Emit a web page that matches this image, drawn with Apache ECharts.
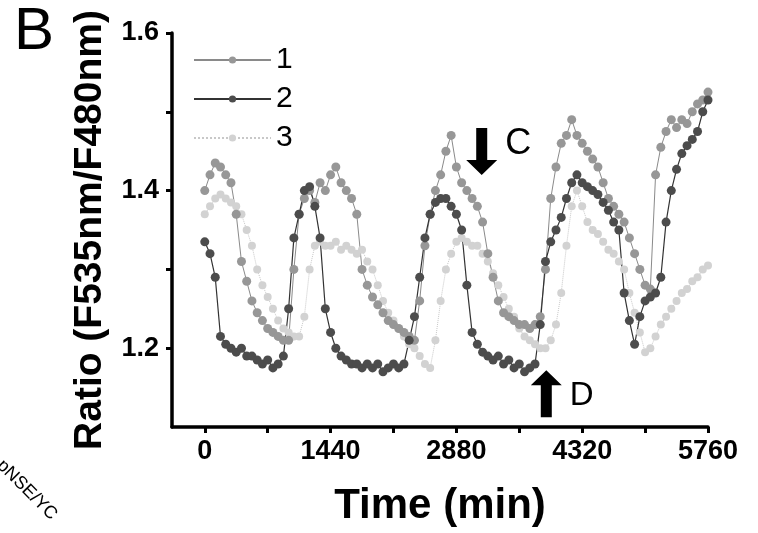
<!DOCTYPE html>
<html>
<head>
<meta charset="utf-8">
<script src="https://cdn.jsdelivr.net/npm/echarts@6/dist/echarts.min.js"></script>
<style>html,body{margin:0;padding:0;background:#fff}#c{width:758px;height:533px}</style>
</head>
<body>
<div id="c"></div>
<script>
// Sampling times (min)
const times = [0,60,120,180,240,300,360,420,480,540,600,660,720,780,840,900,960,1020,1080,1140,1200,1260,1320,1380,1440,1500,1560,1620,1680,1740,1800,1860,1920,1980,2040,2100,2160,2220,2280,2340,2400,2460,2520,2580,2640,2700,2760,2820,2880,2940,3000,3060,3120,3180,3240,3300,3360,3420,3480,3540,3600,3660,3720,3780,3840,3900,3960,4020,4080,4140,4200,4260,4320,4380,4440,4500,4560,4620,4680,4740,4800,4860,4920,4980,5040,5100,5160,5220,5280,5340,5400,5460,5520,5580,5640,5700,5760];

const series1 = [1.40,1.42,1.435,1.43,1.42,1.41,1.37,1.31,1.285,1.26,1.245,1.235,1.225,1.22,1.215,1.21,1.21,1.30,1.37,1.39,1.40,1.385,1.41,1.40,1.42,1.43,1.41,1.40,1.39,1.37,1.30,1.28,1.265,1.255,1.245,1.235,1.23,1.225,1.22,1.215,1.21,1.26,1.33,1.37,1.40,1.42,1.45,1.47,1.43,1.41,1.40,1.39,1.38,1.36,1.32,1.29,1.26,1.245,1.24,1.235,1.23,1.23,1.225,1.23,1.24,1.30,1.39,1.43,1.46,1.47,1.49,1.47,1.46,1.45,1.44,1.43,1.41,1.39,1.38,1.37,1.36,1.34,1.32,1.30,1.28,1.275,1.42,1.455,1.475,1.49,1.48,1.49,1.485,1.50,1.51,1.515,1.525];

const series2 = [1.335,1.32,1.29,1.215,1.205,1.20,1.195,1.20,1.19,1.19,1.185,1.18,1.185,1.175,1.18,1.19,1.25,1.34,1.37,1.40,1.405,1.38,1.34,1.25,1.22,1.20,1.19,1.185,1.18,1.18,1.175,1.18,1.175,1.18,1.17,1.175,1.18,1.175,1.18,1.21,1.24,1.29,1.34,1.37,1.385,1.39,1.39,1.38,1.37,1.35,1.28,1.22,1.205,1.195,1.19,1.185,1.19,1.18,1.185,1.175,1.18,1.17,1.175,1.18,1.23,1.31,1.335,1.35,1.366,1.39,1.41,1.42,1.41,1.405,1.40,1.395,1.385,1.375,1.36,1.35,1.27,1.235,1.205,1.24,1.26,1.265,1.27,1.29,1.36,1.40,1.427,1.447,1.457,1.465,1.475,1.50,1.515];

const series3 = [1.37,1.38,1.39,1.395,1.39,1.385,1.38,1.37,1.35,1.33,1.30,1.28,1.265,1.25,1.235,1.225,1.22,1.215,1.215,1.24,1.30,1.33,1.335,1.33,1.33,1.335,1.325,1.33,1.325,1.32,1.325,1.31,1.30,1.28,1.26,1.245,1.235,1.225,1.215,1.205,1.20,1.19,1.18,1.175,1.21,1.26,1.30,1.32,1.335,1.34,1.335,1.33,1.33,1.32,1.31,1.295,1.28,1.265,1.25,1.24,1.225,1.215,1.21,1.205,1.20,1.20,1.21,1.23,1.27,1.33,1.38,1.40,1.38,1.36,1.35,1.345,1.335,1.325,1.32,1.31,1.30,1.27,1.245,1.22,1.195,1.20,1.215,1.23,1.24,1.25,1.26,1.27,1.275,1.285,1.29,1.30,1.305];

const seriesNames = ['1','2','3'];
const xTickValues = [0,720,1440,2160,2880,3600,4320,5040,5760];
const xLabelValues = [0,1440,2880,4320,5760];
const yTickValues = [1.2,1.3,1.4,1.5,1.6];
const yLabelValues = [1.2,1.4,1.6];

const pair = arr => times.map((t,i)=>[t,arr[i]]);
const FONT = 'Liberation Sans, Arial, sans-serif';
const downArrow = 'path://M10,0 L21,0 L21,32 L31,32 L15.5,47 L0,32 L10,32 Z';

const chart = echarts.init(document.getElementById('c'), null, {renderer:'canvas'});
chart.setOption({
  animation:false,
  backgroundColor:'#fff',
  grid:{left:172,right:50,top:33,bottom:106,containLabel:false},
  legend:{
    data:seriesNames, orient:'vertical', left:193, top:45,
    itemWidth:77, itemHeight:9, itemGap:9, padding:0,
    textStyle:{fontSize:30, color:'#000', fontFamily:FONT, lineHeight:30}
  },
  xAxis:{
    type:'value', min:-375, max:5760,
    axisLine:{show:true, onZero:false, lineStyle:{color:'#000', width:3.5}},
    axisTick:{show:true, customValues:xTickValues, length:6, lineStyle:{color:'#000', width:3}},
    axisLabel:{customValues:xLabelValues, formatter:v=>String(v), fontSize:27, fontWeight:'bold', color:'#000', fontFamily:FONT, margin:11},
    splitLine:{show:false},
    name:'Time (min)', nameLocation:'middle', nameGap:58,
    nameTextStyle:{fontSize:42, fontWeight:'bold', color:'#000', fontFamily:FONT}
  },
  yAxis:{
    type:'value', min:1.1, max:1.6,
    axisLine:{show:true, onZero:false, lineStyle:{color:'#000', width:3.5}},
    axisTick:{show:true, customValues:yTickValues, length:6, lineStyle:{color:'#000', width:3}},
    axisLabel:{customValues:yLabelValues, formatter:v=>v.toFixed(1), fontSize:27, fontWeight:'bold', color:'#000', fontFamily:FONT, margin:13},
    splitLine:{show:false},
    name:'Ratio (F535nm/F480nm)', nameLocation:'middle', nameGap:62, nameRotate:90,
    nameTextStyle:{fontSize:39, fontWeight:'bold', color:'#000', fontFamily:FONT}
  },
  series:[
    {name:'3', type:'line', data:pair(series3), symbol:'circle', symbolSize:8, showSymbol:true,
     itemStyle:{color:'#d2d2d2'}, lineStyle:{color:'#c8c8c8', width:1, type:'dotted'}},
    {name:'1', type:'line', data:pair(series1), symbol:'circle', symbolSize:9, showSymbol:true,
     itemStyle:{color:'#979797'}, lineStyle:{color:'#8a8a8a', width:1}},
    {name:'2', type:'line', data:pair(series2), symbol:'circle', symbolSize:9, showSymbol:true,
     itemStyle:{color:'#4c4c4c'}, lineStyle:{color:'#333', width:1.2},
     markPoint:{
       silent:true,
       data:[
         {name:'C', coord:[3170,1.4495], symbol:downArrow, symbolSize:[31,47], symbolKeepAspect:false,
          itemStyle:{color:'#000'},
          label:{show:true, position:'right', distance:8, offset:[0,-8], formatter:'C', fontSize:36, color:'#000', fontFamily:FONT}},
         {name:'D', coord:[3909,1.1422], symbol:downArrow, symbolRotate:180, symbolSize:[31,47], symbolKeepAspect:false,
          itemStyle:{color:'#000'},
          label:{show:true, position:'right', distance:8, offset:[0,2], formatter:'D', fontSize:33, color:'#000', fontFamily:FONT}}
       ]
     }}
  ],
  graphic:[
    {type:'text', left:14, top:2, style:{text:'B', fontSize:60, fill:'#000', fontFamily:FONT}},
    {type:'text', x:27, y:490, rotation:-Math.PI/4,
     style:{text:'pNSE/YC', fontSize:18, fill:'#000', fontFamily:FONT, align:'center', verticalAlign:'middle'}}
  ]
});
</script>
</body>
</html>
